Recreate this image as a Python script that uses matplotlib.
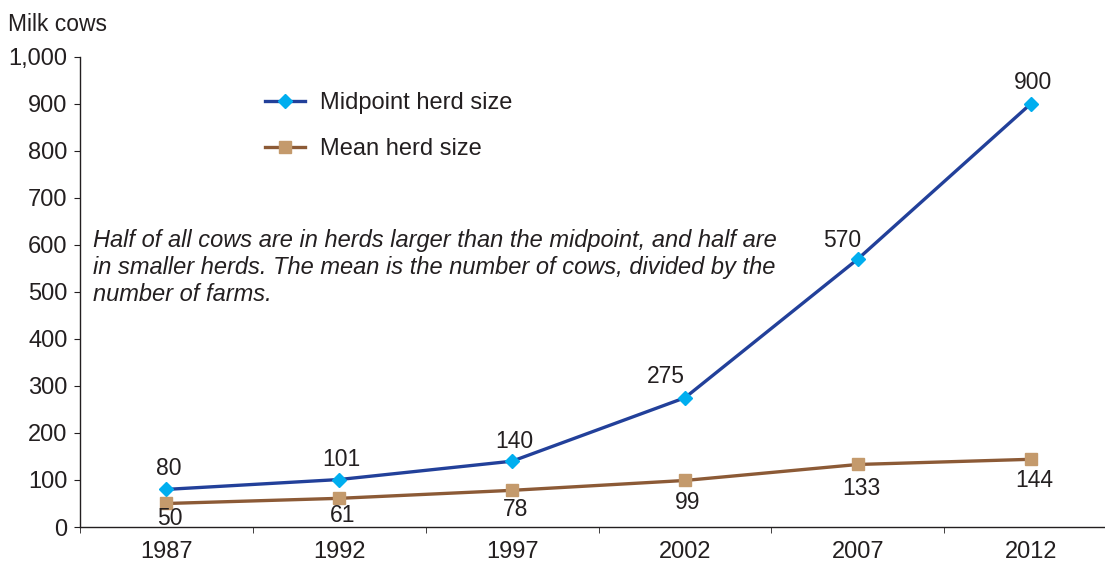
import matplotlib.pyplot as plt
from matplotlib.ticker import FuncFormatter, FixedLocator

plt.rcParams['font.family'] = ['Liberation Sans', 'DejaVu Sans']

years = ["1987", "1992", "1997", "2002", "2007", "2012"]
midpoint = [80, 101, 140, 275, 570, 900]
mean = [50, 61, 78, 99, 133, 144]

# data label offsets in pixels (dx, dy) from the marker
mid_offsets = [(2, 21), (2, 20), (2, 20), (-19, 21), (-16, 19), (2, 21)]
mean_offsets = [(3, -15), (3, -17), (3, -19), (3, -22), (4, -24), (4, -21)]

PX = 72 / 100  # pixels -> points at dpi 100
INK = "#231F20"

fig = plt.figure(figsize=(11.05, 5.61), dpi=100)
ax = fig.add_axes([0.0724, 0.0606, 0.9276, 0.838])

x = list(range(len(years)))
ax.plot(x, midpoint, color="#22409A", lw=2.4, marker="D", ms=7,
        mfc="#00AEEF", mec="#00AEEF", label="Midpoint herd size", zorder=3)
ax.plot(x, mean, color="#8C5A36", lw=2.4, marker="s", ms=9,
        mfc="#C49A6C", mec="#C49A6C", label="Mean herd size", zorder=3)

for xi, v, (dx, dy) in zip(x, midpoint, mid_offsets):
    ax.annotate(str(v), (xi, v), xytext=(dx * PX, dy * PX), textcoords="offset points",
                ha="center", va="center", fontsize=16.5, color=INK)
for xi, v, (dx, dy) in zip(x, mean, mean_offsets):
    ax.annotate(str(v), (xi, v), xytext=(dx * PX, dy * PX), textcoords="offset points",
                ha="center", va="center", fontsize=16.5, color=INK)

ax.set_xlim(-0.5, 5.43)
ax.set_ylim(0, 1000)
ax.set_xticks(x)
ax.set_xticklabels(years)
ax.xaxis.set_minor_locator(FixedLocator([-0.5, 0.5, 1.5, 2.5, 3.5, 4.5]))
ax.tick_params(axis="x", which="major", length=0, pad=10, labelsize=17, colors=INK)
ax.tick_params(axis="x", which="minor", length=4, direction="out", color=INK)
ax.set_yticks(range(0, 1001, 100))
ax.yaxis.set_major_formatter(FuncFormatter(lambda v, p: f"{int(v):,}"))
ax.tick_params(axis="y", length=4, direction="out", labelsize=17, colors=INK, pad=5)

for s in ["top", "right"]:
    ax.spines[s].set_visible(False)
for s in ["left", "bottom"]:
    ax.spines[s].set_color(INK)
    ax.spines[s].set_linewidth(1.0)

leg = ax.legend(loc="upper left", bbox_to_anchor=(0.16, 0.97), frameon=False,
                fontsize=17, handlelength=1.7, labelspacing=1.02, handletextpad=0.62)
for t in leg.get_texts():
    t.set_color(INK)

ax.text(0.013, 0.633,
        "Half of all cows are in herds larger than the midpoint, and half are\n"
        "in smaller herds. The mean is the number of cows, divided by the\n"
        "number of farms.",
        transform=ax.transAxes, fontsize=17, style="italic", color=INK,
        va="top", ha="left", linespacing=1.2)

fig.text(0.007, 0.957, "Milk cows", fontsize=16.5, color=INK, va="center")

fig.savefig("out.png", dpi=100)
